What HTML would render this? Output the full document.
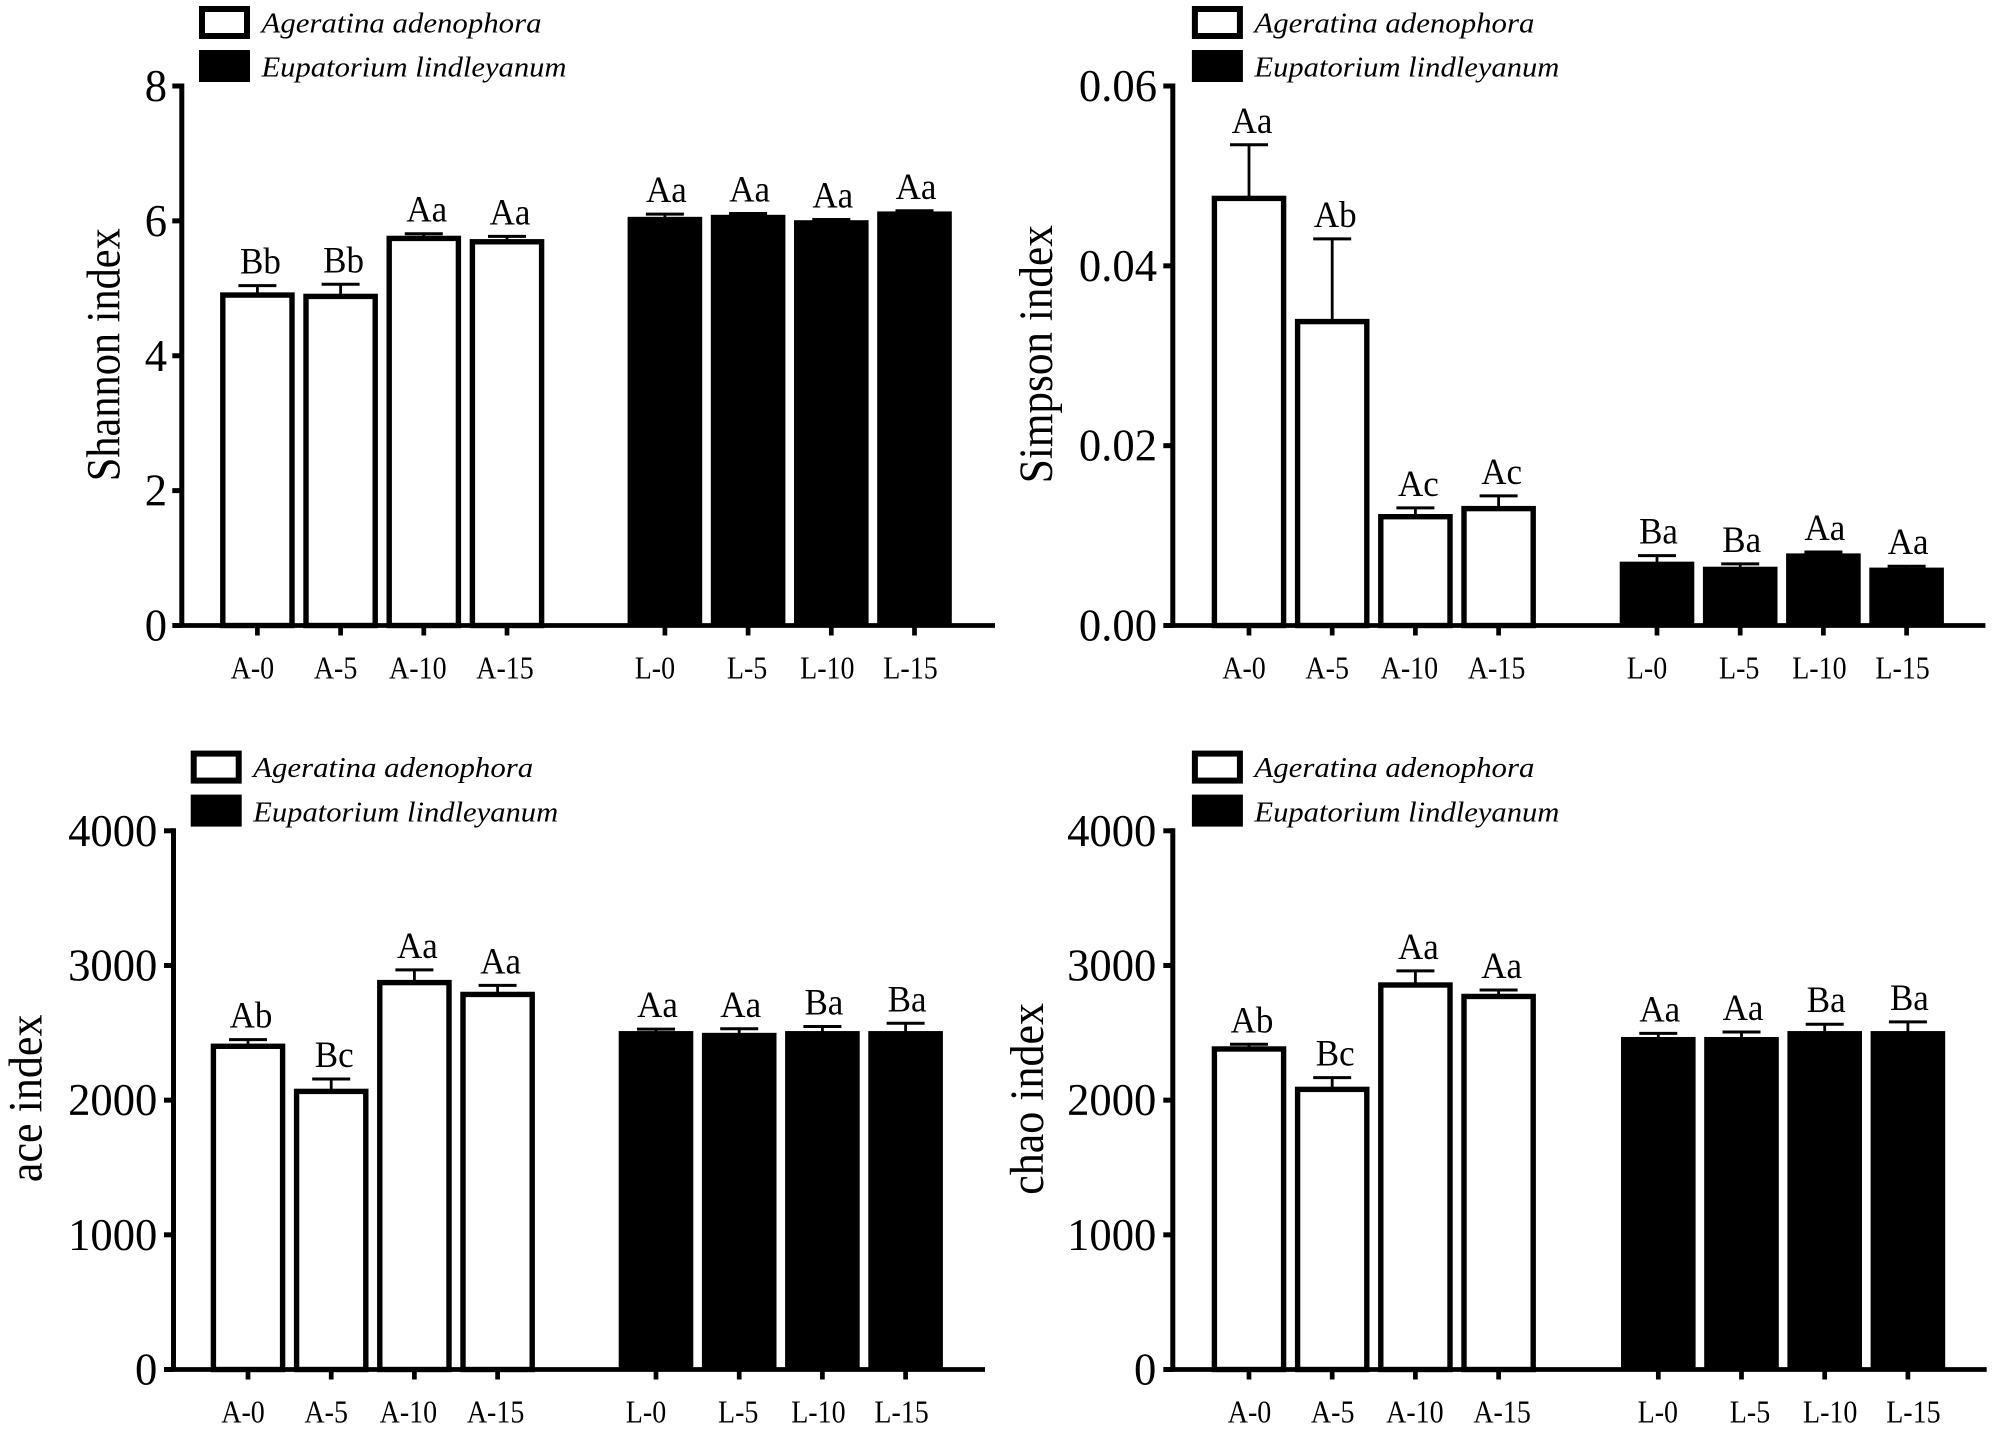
<!DOCTYPE html>
<html lang="en">
<head>
<meta charset="utf-8">
<title>Alpha diversity indices</title>
<style>
html,body{margin:0;padding:0;background:#fff;width:1996px;height:1436px;overflow:hidden}
svg{display:block}
text{font-family:"Liberation Serif",serif;fill:#000}
</style>
</head>
<body>
<svg id="figure" xmlns="http://www.w3.org/2000/svg" width="1996" height="1436" viewBox="0 0 1996 1436"></svg>
<script>
const categories = ['A-0','A-5','A-10','A-15','L-0','L-5','L-10','L-15'];
const speciesNames = ['Ageratina adenophora','Eupatorium lindleyanum'];

const shannonValues = [4.94,4.92,5.78,5.73,6.06,6.09,6.01,6.14];
const shannonErrorTops = [5.04,5.06,5.81,5.77,6.10,6.11,6.02,6.15];
const shannonLetters = ['Bb','Bb','Aa','Aa','Aa','Aa','Aa','Aa'];
const shannonTicks = ['0','2','4','6','8'];

const simpsonValues = [0.0478,0.0341,0.0124,0.0133,0.0071,0.00654,0.00802,0.00644];
const simpsonErrorTops = [0.05346,0.0430,0.01308,0.01441,0.00777,0.00685,0.00818,0.00659];
const simpsonLetters = ['Aa','Ab','Ac','Ac','Ba','Ba','Aa','Aa'];
const simpsonTicks = ['0.00','0.02','0.04','0.06'];

const aceValues = [2420,2085,2893,2805,2513,2500,2513,2513];
const aceErrorTops = [2449,2157,2967,2852,2527,2530,2547,2571];
const aceLetters = ['Ab','Bc','Aa','Aa','Aa','Aa','Ba','Ba'];
const aceTicks = ['0','1000','2000','3000','4000'];

const chaoValues = [2400,2100,2875,2790,2469,2469,2513,2513];
const chaoErrorTops = [2415,2167,2960,2818,2496,2506,2564,2581];
const chaoLetters = ['Ab','Bc','Aa','Aa','Aa','Aa','Ba','Ba'];
const chaoTicks = ['0','1000','2000','3000','4000'];

// small hand-placement offsets of the category captions relative to their ticks
const captionNudge = [0,0,-1,3,-5,4,1,1];

const NS = 'http://www.w3.org/2000/svg';
const figure = document.getElementById('figure');

function shape(parent, tag, props) {
  const el = document.createElementNS(NS, tag);
  for (const k in props) el.setAttribute(k, props[k]);
  parent.appendChild(el);
  return el;
}

function renderPanel(p) {
  const group = shape(figure, 'g', {});
  
  

  const maxTick = parseFloat(p.ticks[p.ticks.length - 1]);
  const yScale = v => p.y0 - (v / maxTick) * (p.y0 - p.yTop);
  const xScale = i => p.firstX + 83.2 * i + (i >= 4 ? p.gap : 0);
  const barW = 74.6, sw = 5.4;

  // error bars
  categories.forEach((cat, i) => {
    const cx = xScale(i);
    const top = yScale(p.errors[i]);
    const stem = shape(group, 'line', {x1: cx, x2: cx, y1: top, y2: yScale(p.values[i]) + 2, stroke: '#000', 'stroke-width': 2.8});
    
    
    const cap = shape(group, 'line', {x1: cx - 19, x2: cx + 19, y1: top, y2: top, stroke: '#000', 'stroke-width': 3});
    
    
  });

  // bars
  categories.forEach((cat, i) => {
    const cx = xScale(i);
    const top = yScale(p.values[i]);
    const hollow = i < 4;
    const bar = hollow
      ? shape(group, 'rect', {x: cx - barW / 2 + sw / 2, y: top + sw / 2, width: barW - sw, height: p.y0 - top - sw / 2, fill: '#fff', stroke: '#000', 'stroke-width': sw})
      : shape(group, 'rect', {x: cx - barW / 2, y: top, width: barW, height: p.y0 - top, fill: '#000'});
    
    

    const letterX = cx + (hollow ? 3 : 1.5);
    const letter = shape(group, 'text', {transform: 'translate(' + letterX + ',' + (yScale(p.errors[i]) - 12) + ') scale(1,1.05)', 'text-anchor': 'middle', 'font-size': 35});
    letter.textContent = p.letters[i];
    
    

    const tick = shape(group, 'line', {x1: cx, x2: cx, y1: p.y0, y2: p.y0 + 10, stroke: '#000', 'stroke-width': 4.7});
    
    

    const captionX = cx - 5 + captionNudge[i] + (hollow ? p.capDxA : p.capDxL);
    const label = shape(group, 'text', {transform: 'translate(' + captionX + ',' + (p.y0 + 52.8) + ') scale(1,1.14)', 'text-anchor': 'middle', 'font-size': 28});
    label.textContent = cat;
    
    
  });

  // axes
  const yAxis = shape(group, 'line', {x1: p.axisX, x2: p.axisX, y1: p.yTop - 2.5, y2: p.y0 + 2, stroke: '#000', 'stroke-width': 5});
  
  
  const xAxis = shape(group, 'line', {x1: p.xStart, x2: p.xEnd, y1: p.y0, y2: p.y0, stroke: '#000', 'stroke-width': 4.8});
  
  

  p.ticks.forEach(t => {
    const y = yScale(parseFloat(t));
    const tick = shape(group, 'line', {x1: p.axisX - 9.5, x2: p.axisX, y1: y, y2: y, stroke: '#000', 'stroke-width': 5});
    
    
    const label = shape(group, 'text', {transform: 'translate(' + p.tickRight + ',' + (y + 15) + ') scale(0.97,1)', 'text-anchor': 'end', 'font-size': 46});
    label.textContent = t;
    
    
  });

  // axis title
  const title = shape(group, 'text', {
    transform: 'translate(' + p.titleX + ',' + p.titleY + ') rotate(-90)',
    'text-anchor': 'middle', 'font-size': 48,
    textLength: p.titleLen, lengthAdjust: 'spacingAndGlyphs'
  });
  title.textContent = p.title;
  
  

  // legend
  const hollowKey = shape(group, 'rect', {x: p.legX + 3, y: p.legY + 3, width: 45, height: 27, fill: '#fff', stroke: '#000', 'stroke-width': 6});
  
  
  const solidKey = shape(group, 'rect', {x: p.legX, y: p.legY + 44, width: 51, height: 32, fill: '#000'});
  
  
  const legA = shape(group, 'text', {x: p.legX + 62.5, y: p.legY + 26.3, 'font-size': 29, 'font-style': 'italic', textLength: 280, lengthAdjust: 'spacingAndGlyphs'});
  legA.textContent = speciesNames[0];
  
  
  const legB = shape(group, 'text', {x: p.legX + 62.5, y: p.legY + 70.7, 'font-size': 29, 'font-style': 'italic', textLength: 305, lengthAdjust: 'spacingAndGlyphs'});
  legB.textContent = speciesNames[1];
  
  
}

renderPanel({key:'shannon', title:'Shannon index', values:shannonValues, errors:shannonErrorTops, letters:shannonLetters, ticks:shannonTicks,
  axisX:181.8, xStart:173.5, xEnd:995, y0:625.5, yTop:86, firstX:257.4, gap:74.7, tickRight:167, capDxA:0, capDxL:0,
  titleX:119.3, titleY:354.7, titleLen:253, legX:199, legY:6});
renderPanel({key:'simpson', title:'Simpson index', values:simpsonValues, errors:simpsonErrorTops, letters:simpsonLetters, ticks:simpsonTicks,
  axisX:1172.8, xStart:1164.5, xEnd:1985.4, y0:625.5, yTop:86, firstX:1249, gap:75.2, tickRight:1157, capDxA:0, capDxL:0,
  titleX:1052, titleY:354.2, titleLen:258, legX:1191.9, legY:6});
renderPanel({key:'ace', title:'ace index', values:aceValues, errors:aceErrorTops, letters:aceLetters, ticks:aceTicks,
  axisX:173.5, xStart:165, xEnd:985, y0:1369.5, yTop:830.8, firstX:248, gap:75.2, tickRight:157.3, capDxA:0, capDxL:0,
  titleX:41.5, titleY:1098.3, titleLen:167.6, legX:190.7, legY:750.6});
renderPanel({key:'chao', title:'chao index', values:chaoValues, errors:chaoErrorTops, letters:chaoLetters, ticks:chaoTicks,
  axisX:1172.8, xStart:1166.5, xEnd:1986.7, y0:1369.5, yTop:830.8, firstX:1249, gap:76.5, tickRight:1156.3, capDxA:5.5, capDxL:9.5,
  titleX:1043.2, titleY:1098.9, titleLen:191.8, legX:1191.9, legY:750.6});
</script>
</body>
</html>
